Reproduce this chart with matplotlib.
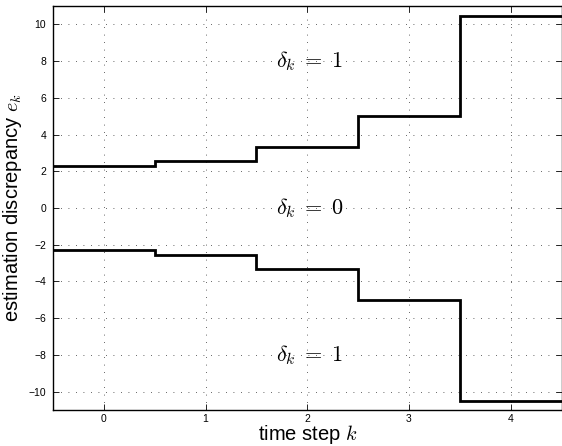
import matplotlib
matplotlib.use("Agg")
import matplotlib.pyplot as plt

plt.rcParams['mathtext.fontset'] = 'cm'
plt.rcParams['font.family'] = ['Liberation Sans', 'DejaVu Sans']
plt.rcParams['axes.unicode_minus'] = True

k = [0, 1, 2, 3, 4]
upper = [2.3, 2.57, 3.3, 5.0, 10.47]
lower = [-2.3, -2.57, -3.3, -5.0, -10.5]
xticks = [0, 1, 2, 3, 4]
yticks = [-10, -8, -6, -4, -2, 0, 2, 4, 6, 8, 10]
labels = [(2, 8, r'$\delta_k\;=\;1$'), (2, 0, r'$\delta_k\;=\;0$'), (2, -8, r'$\delta_k\;=\;1$')]

fig = plt.figure(figsize=(5.62, 4.46), dpi=100)
ax = fig.add_axes([0.0943, 0.081, 0.905, 0.9055])

edges = [k[0] - 0.5] + [v + 0.5 for v in k]
ax.stairs(upper, edges, color='black', lw=2, baseline=None)
ax.stairs(lower, edges, color='black', lw=2, baseline=None)

for x, y, s in labels:
    ax.text(x + 0.02, y, s, ha='center', va='center', fontsize=16)

ax.set_xlim(-0.5, 4.5)
ax.set_ylim(-11, 11)
ax.set_xticks(xticks)
ax.set_yticks(yticks)
ax.tick_params(direction='in', top=True, right=True, labelsize=7.5, length=4, width=0.6, pad=5)
ax.tick_params(axis='x', pad=3)
ax.grid(True, linestyle=(0, (1, 8)), color='black', lw=0.6, alpha=0.8)
for sp in ax.spines.values():
    sp.set_linewidth(1)
ax.set_xlabel(r'time step $k$', fontsize=14.5, labelpad=-1)
ax.set_ylabel(r'estimation discrepancy $e_k$', fontsize=14.5, labelpad=3)

fig.savefig('out.png', dpi=100)
